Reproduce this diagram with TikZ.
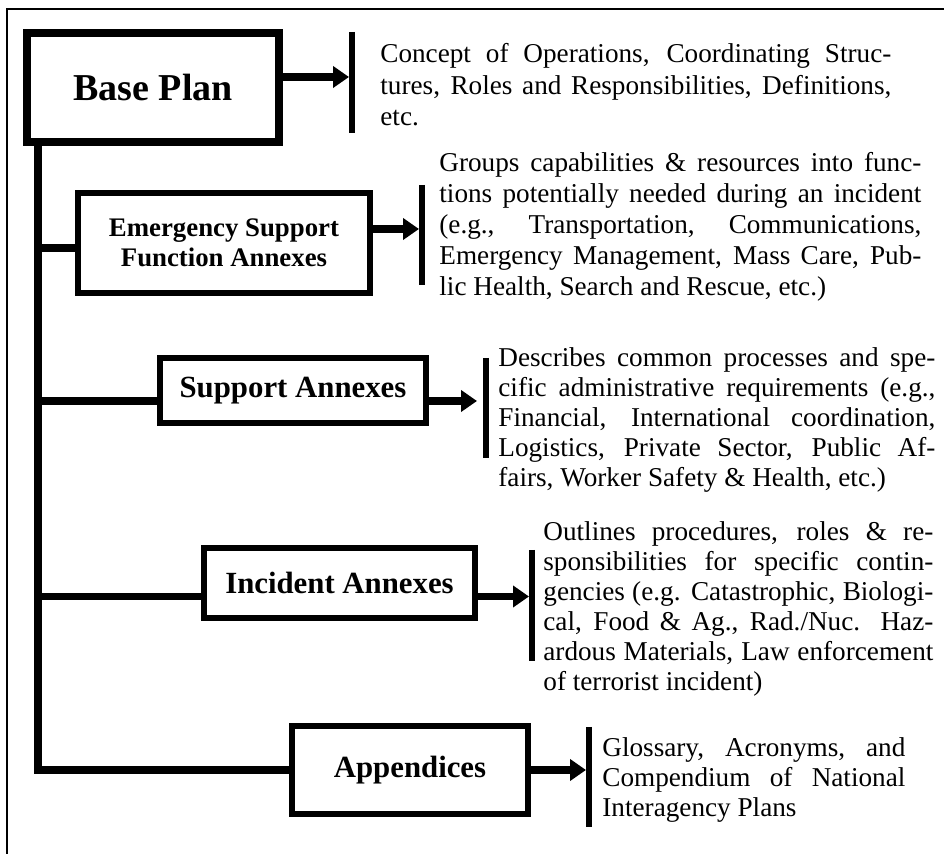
\documentclass[tikz,border=0pt]{standalone}
\usepackage{fontspec}
\setmainfont{Liberation Serif}
\usetikzlibrary{arrows.meta}
\tolerance=10000
\hbadness=10000

\begin{document}
\begin{tikzpicture}[x=0.5pt, y=-0.5pt,
   box/.style={draw, rectangle, line width=3pt, inner sep=0pt,
      font=\bfseries\fontsize{15.4}{18}\selectfont},
   desc/.style={anchor=base west, inner sep=0pt, align=justify,
      font=\fontsize{13.6}{15}\selectfont},
   link/.style={line width=3.75pt},
   arr/.style={line width=3.75pt, -{Triangle[length=8pt, width=10.5pt]}},
   bar/.style={line width=3pt}]
   \useasboundingbox (0,0) rectangle (944,854);
   % Frame
   \draw[line width=1pt] (944,9) -- (7,9) -- (7,854);
   % Boxes
   \node[box, line width=4pt, minimum width=126pt, minimum height=54.5pt,
      font=\bfseries\fontsize{19}{22}\selectfont] (basePlan) at (153,88) {Base Plan};
   \node[box, minimum width=146pt, minimum height=50pt, align=center,
      font=\bfseries\fontsize{13.4}{15}\selectfont] (esfBox) at (224,243)
      {Emergency Support\\Function Annexes};
   \node[box, minimum width=133pt, minimum height=32.5pt] (supBox) at (293,390.5) {Support Annexes};
   \node[box, minimum width=135.5pt, minimum height=35pt] (incBox) at (339.5,583) {Incident Annexes};
   \node[box, minimum width=118pt, minimum height=44pt] (appBox) at (410,770) {Appendices};
   % Arrow ends and trunk
   \coordinate (bpTip) at (349,77);
   \coordinate (esfTip) at (419,229);
   \coordinate (supTip) at (477,401);
   \coordinate (incTip) at (529,596.5);
   \coordinate (appTip) at (586,770);
   \coordinate (trunk) at (38,143);
   \coordinate (esfIn) at (78,248);
   % Trunk and branches
   \draw[link] (trunk) |- (appBox.west);
   \draw[link] (trunk |- esfIn) -- (esfIn);
   \foreach \b/\t in {supBox/supTip, incBox/incTip}
      \draw[link] (trunk |- \t) -- (\b.west |- \t);
   % Arrows
   \foreach \b/\t in {basePlan/bpTip, esfBox/esfTip, supBox/supTip, incBox/incTip, appBox/appTip}
      \draw[arr] (\b.east |- \t) -- (\t);
   % Bars
   \foreach \x/\a/\z in {352/32/133, 422/185/285, 486/358/458, 532/550/661, 589/727/827}
      \draw[bar] (\x,\a) -- (\x,\z);
   % Texts
   \node[desc, text width=255.5pt, font=\fontsize{13.6}{15.75}\selectfont] (bpTxt) at (380,63)
      {Concept of Operations, Coordinating Struc-\linebreak
      tures, Roles and Responsibilities, Definitions,\linebreak
      etc.};
   \node[desc, text width=241pt, font=\fontsize{13.6}{15.5}\selectfont] (esfTxt) at (439,172)
      {Groups capabilities \& resources into func-\linebreak
      tions potentially needed during an incident\linebreak
      (e.g., Transportation, Communications,\linebreak
      Emergency Management, Mass Care, Pub-\linebreak
      lic Health, Search and Rescue, etc.)};
   \node[desc, text width=218.5pt] (supTxt) at (498,366.7)
      {Describes common processes and spe-\linebreak
      cific administrative requirements (e.g.,\linebreak
      Financial, International coordination,\linebreak
      Logistics, Private Sector, Public Af-\linebreak
      fairs, Worker Safety \& Health, etc.)};
   \node[desc, text width=195pt] (incTxt) at (543,540.7)
      {Outlines procedures, roles \& re-\linebreak
      sponsibilities for specific contin-\linebreak
      gencies (e.g. Catastrophic, Biologi-\linebreak
      cal, Food \& Ag., Rad./Nuc. Haz-\linebreak
      ardous Materials, Law enforcement\linebreak
      of terrorist incident)};
   \node[desc, text width=151.5pt] (appTxt) at (602,756.7)
      {Glossary, Acronyms, and\linebreak
      Compendium of National\linebreak
      Interagency Plans};
\end{tikzpicture}
\end{document}
